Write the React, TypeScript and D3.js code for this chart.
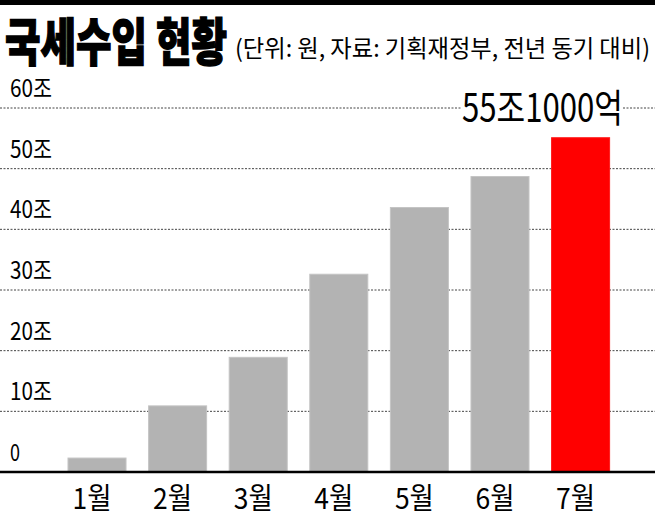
import React from "react";
import * as d3 from "d3";

const months = ["1월", "2월", "3월", "4월", "5월", "6월", "7월"];
const values = [2.3, 10.9, 18.9, 32.6, 43.6, 48.7, 55.1];
const highlight = [false, false, false, false, false, false, true];
const yTicks = [0, 10, 20, 30, 40, 50, 60];
const yTickLabels = ["0", "10조", "20조", "30조", "40조", "50조", "60조"];
const titleText = "국세수입 현황";
const subtitleText = "(단위: 원, 자료: 기획재정부, 전년 동기 대비)";
const callout = "55조1000억";

const W = 655;
const H = 513;
const FONT = "'Noto Sans CJK KR', 'Noto Sans', sans-serif";

export default function App() {
  const step = 80.6;
  const x = d3
    .scaleBand<string>()
    .domain(months)
    .range([68 - step * 0.5, 609.6 + step * 0.5])
    .paddingInner(0.28)
    .paddingOuter(0.5);
  const y = d3.scaleLinear().domain([0, 60]).range([472, 108]);

  return (
    <svg
      width={W}
      height={H}
      style={{ position: "absolute", left: 0, top: 0, background: "#fff" }}
      fontFamily={FONT}
    >
      <rect x={0} y={0} width={W} height={H} fill="#fff" />
      <rect x={0} y={0} width={W} height={5} fill="#000" />
      <text
        x={5}
        y={61}
        fontSize={51}
        fontWeight={900}
        fill="#000"
        stroke="#000"
        strokeWidth={1.4}
        textLength={222}
        lengthAdjust="spacingAndGlyphs"
      >
        {titleText}
      </text>
      <text
        x={235}
        y={57}
        fontSize={24}
        fill="#000"
        textLength={415}
        lengthAdjust="spacingAndGlyphs"
      >
        {subtitleText}
      </text>

      {yTicks.map((t) =>
        t === 0 ? null : (
          <line
            key={"g" + t}
            x1={0}
            x2={W}
            y1={y(t)}
            y2={y(t)}
            stroke="#444"
            strokeWidth={1}
            strokeDasharray="2,1.5"
          />
        )
      )}
      {yTicks.map((t, i) => (
        <text
          key={"l" + t}
          x={10}
          y={y(t) - 11}
          fontSize={24}
          fill="#000"
          textLength={t === 0 ? 10 : 42}
          lengthAdjust="spacingAndGlyphs"
        >
          {yTickLabels[i]}
        </text>
      ))}

      {months.map((m, i) => (
        <rect
          key={m}
          x={x(m)}
          y={y(values[i])}
          width={x.bandwidth()}
          height={y(0) - y(values[i])}
          fill={highlight[i] ? "#ff0000" : "#b3b3b3"}
          stroke={highlight[i] ? "#ff1a1a" : "#c4c4c4"}
          strokeWidth={1}
        />
      ))}

      <line x1={0} x2={W} y1={y(0)} y2={y(0)} stroke="#000" strokeWidth={2.5} />

      {months.map((m) => (
        <text
          key={"m" + m}
          x={(x(m) as number) + x.bandwidth() / 2 - 5}
          y={509}
          fontSize={29}
          fill="#000"
          textAnchor="middle"
          textLength={39}
          lengthAdjust="spacingAndGlyphs"
        >
          {m}
        </text>
      ))}

      <rect x={462} y={y(60) - 3} width={161} height={6} fill="#fff" />
      <text
        x={462}
        y={122}
        fontSize={39}
        fill="#000"
        textLength={161}
        lengthAdjust="spacingAndGlyphs"
      >
        {callout}
      </text>
    </svg>
  );
}
